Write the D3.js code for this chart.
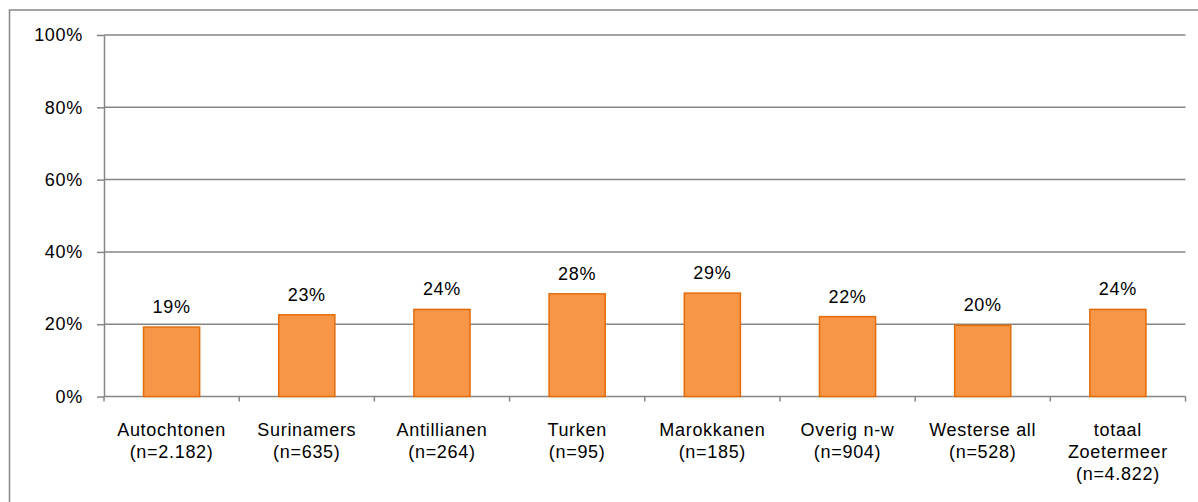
<!DOCTYPE html>
<html lang="nl">
<head>
    <meta charset="UTF-8">
    <title>Percentage per herkomstgroep</title>
    <script src="https://d3js.org/d3.v7.min.js"></script>
    <style>
        body { margin: 0; background: #fff; }
        svg {
            font-family: "Liberation Sans", Arial, sans-serif;
            font-size: 18px;
            letter-spacing: 0.7px;
        }
        .grid line { stroke: #868686; stroke-width: 1.5px; }
        .axis path, .axis line { stroke: #868686; stroke-width: 1.5px; fill: none; }
        .axis text { fill: #000; font-size: 18px; }
        .bar { fill: #f79646; stroke: #e46c0a; stroke-width: 1.5px; }
        .value { fill: #000; text-anchor: middle; }
    </style>
</head>
<body>
    <div id="chart"></div>
    <script>
        // Data
        const groups = ["Autochtonen", "Surinamers", "Antillianen", "Turken", "Marokkanen", "Overig n-w", "Westerse all", "totaal Zoetermeer"];
        const labelLines = [
            ["Autochtonen", "(n=2.182)"],
            ["Surinamers", "(n=635)"],
            ["Antillianen", "(n=264)"],
            ["Turken", "(n=95)"],
            ["Marokkanen", "(n=185)"],
            ["Overig n-w", "(n=904)"],
            ["Westerse all", "(n=528)"],
            ["totaal", "Zoetermeer", "(n=4.822)"]
        ];
        const values = [0.192, 0.226, 0.241, 0.284, 0.286, 0.221, 0.197, 0.241];
        const valueLabels = ["19%", "23%", "24%", "28%", "29%", "22%", "20%", "24%"];
        const yTicks = [0, 0.2, 0.4, 0.6, 0.8, 1.0];

        const W = 1198, H = 502;
        const margin = { top: 35, right: 12.5, bottom: 105.5, left: 104 };
        const width = W - margin.left - margin.right;
        const height = H - margin.top - margin.bottom;

        const svg = d3.select("#chart").append("svg")
            .attr("width", W)
            .attr("height", H);

        // outer frame
        svg.append("rect")
            .attr("x", 9.5).attr("y", 10)
            .attr("width", W).attr("height", H)
            .attr("fill", "none")
            .attr("stroke", "#868686")
            .attr("stroke-width", 1.5);

        const g = svg.append("g")
            .attr("transform", `translate(${margin.left},${margin.top})`);

        const x = d3.scaleBand().domain(groups).range([0, width]).paddingInner(0.585).paddingOuter(0.2925);
        const xOuter = d3.scaleBand().domain(groups).range([0, width]);
        const y = d3.scaleLinear().domain([0, 1]).range([height, 0]);

        // gridlines
        g.append("g").attr("class", "grid")
            .selectAll("line").data(yTicks.filter(d => d > 0)).join("line")
            .attr("x1", 0).attr("x2", width)
            .attr("y1", d => y(d)).attr("y2", d => y(d));

        // y axis
        g.append("g").attr("class", "axis")
            .call(d3.axisLeft(y).tickValues(yTicks).tickFormat(d3.format(".0%")).tickSize(7).tickPadding(14).tickSizeOuter(0));

        // x axis with ticks on band boundaries
        const xAxis = g.append("g").attr("class", "axis")
            .attr("transform", `translate(0,${height})`);
        xAxis.append("line").attr("x1", 0).attr("x2", width);
        const bounds = groups.map(d => xOuter(d)).concat([width]);
        xAxis.selectAll(".tk").data(bounds).join("line")
            .attr("class", "tk")
            .attr("x1", d => d).attr("x2", d => d)
            .attr("y1", 0).attr("y2", 5);

        const labels = xAxis.selectAll(".cat").data(groups).join("text")
            .attr("class", "cat")
            .attr("text-anchor", "middle")
            .attr("fill", "#000")
            .attr("transform", d => `translate(${xOuter(d) + xOuter.bandwidth() / 2},39.5)`);
        labels.selectAll("tspan").data((d, i) => labelLines[i]).join("tspan")
            .attr("x", 0)
            .attr("dy", (d, i) => i === 0 ? 0 : 22)
            .text(d => d);

        // bars
        g.selectAll(".bar").data(groups).join("rect")
            .attr("class", "bar")
            .attr("x", d => x(d))
            .attr("width", x.bandwidth())
            .attr("y", (d, i) => y(values[i]))
            .attr("height", (d, i) => height - y(values[i]));

        // value labels
        g.selectAll(".value").data(groups).join("text")
            .attr("class", "value")
            .attr("x", d => x(d) + x.bandwidth() / 2)
            .attr("y", (d, i) => y(values[i]) - 14)
            .text((d, i) => valueLabels[i]);
    </script>
</body>
</html>
